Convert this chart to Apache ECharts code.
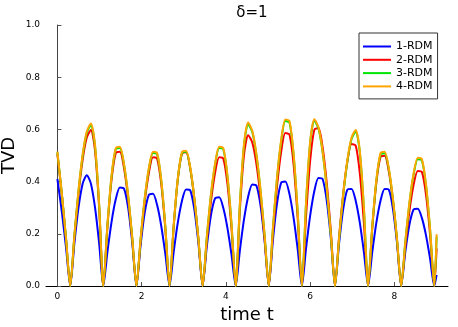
<!DOCTYPE html>
<html>
<head>
<meta charset="utf-8">
<script src="https://cdn.jsdelivr.net/npm/echarts@6/dist/echarts.min.js"></script>
<style>
html,body{margin:0;padding:0;background:#fff;}
#c{width:458px;height:327px;}
</style>
</head>
<body>
<div id="c"></div>
<script>
const seriesNames = ["1-RDM", "2-RDM", "3-RDM", "4-RDM"];
const xTicks = [0, 2, 4, 6, 8];

const time = [
  0, 0.109, 0.207, 0.305,
  0.403, 0.501, 0.600, 0.698, 0.796, 0.894, 0.992, 1.090,
  1.188, 1.286, 1.385, 1.483, 1.581, 1.679, 1.777, 1.876,
  1.974, 2.072, 2.171, 2.269, 2.367, 2.465, 2.563, 2.661,
  2.759, 2.857, 2.956, 3.054, 3.152, 3.250, 3.348, 3.447,
  3.545, 3.643, 3.742, 3.840, 3.938, 4.036, 4.134, 4.232,
  4.330, 4.428, 4.527, 4.625, 4.723, 4.821, 4.919, 5.017,
  5.115, 5.213, 5.312, 5.410, 5.508, 5.606, 5.704, 5.803,
  5.901, 5.999, 6.098, 6.196, 6.294, 6.392, 6.490, 6.588,
  6.686, 6.784, 6.883, 6.981, 7.079, 7.177, 7.275, 7.374,
  7.472, 7.570, 7.669, 7.767, 7.865, 7.963, 8.061, 8.159,
  8.257, 8.355, 8.454, 8.552, 8.650, 8.748, 8.846, 8.944,
  9.0
];

const rdm1 = [
  0.41, 0.28, 0.145, 0,
  0.162, 0.300, 0.392, 0.424, 0.392, 0.300, 0.162, 0,
  0.131, 0.246, 0.332, 0.377, 0.373, 0.300, 0.166, 0,
  0.155, 0.280, 0.349, 0.353, 0.310, 0.230, 0.122, 0,
  0.129, 0.242, 0.326, 0.370, 0.367, 0.294, 0.163, 0,
  0.150, 0.270, 0.336, 0.340, 0.299, 0.222, 0.118, 0,
  0.135, 0.254, 0.342, 0.389, 0.385, 0.309, 0.171, 0,
  0.176, 0.317, 0.396, 0.400, 0.352, 0.261, 0.139, 0,
  0.144, 0.270, 0.364, 0.414, 0.410, 0.328, 0.182, 0,
  0.164, 0.296, 0.369, 0.372, 0.327, 0.243, 0.129, 0,
  0.129, 0.243, 0.327, 0.372, 0.369, 0.296, 0.164, 0,
  0.131, 0.235, 0.293, 0.296, 0.261, 0.194, 0.103, 0,
  0.042
];

const rdm2 = [
  0.505, 0.345, 0.177, 0,
  0.185, 0.352, 0.484, 0.569, 0.598, 0.518, 0.299, 0,
  0.227, 0.408, 0.509, 0.514, 0.452, 0.336, 0.179, 0,
  0.171, 0.322, 0.433, 0.493, 0.488, 0.391, 0.217, 0,
  0.226, 0.407, 0.507, 0.512, 0.450, 0.334, 0.178, 0,
  0.171, 0.322, 0.433, 0.493, 0.488, 0.391, 0.217, 0,
  0.289, 0.501, 0.578, 0.550, 0.468, 0.340, 0.179, 0,
  0.203, 0.383, 0.515, 0.586, 0.580, 0.465, 0.258, 0,
  0.266, 0.480, 0.599, 0.605, 0.532, 0.395, 0.210, 0,
  0.189, 0.355, 0.478, 0.544, 0.538, 0.432, 0.240, 0,
  0.220, 0.396, 0.494, 0.499, 0.439, 0.326, 0.173, 0,
  0.153, 0.288, 0.388, 0.441, 0.437, 0.350, 0.194, 0,
  0.144
];

const rdm3 = [
  0.512, 0.348, 0.179, 0,
  0.191, 0.363, 0.499, 0.587, 0.617, 0.534, 0.309, 0,
  0.233, 0.420, 0.524, 0.529, 0.465, 0.345, 0.184, 0,
  0.177, 0.333, 0.449, 0.510, 0.505, 0.405, 0.225, 0,
  0.227, 0.408, 0.509, 0.514, 0.452, 0.336, 0.179, 0,
  0.184, 0.345, 0.465, 0.529, 0.524, 0.420, 0.233, 0,
  0.310, 0.537, 0.620, 0.590, 0.502, 0.365, 0.192, 0,
  0.220, 0.413, 0.556, 0.632, 0.626, 0.502, 0.279, 0,
  0.317, 0.549, 0.634, 0.603, 0.513, 0.373, 0.196, 0,
  0.183, 0.348, 0.479, 0.563, 0.592, 0.513, 0.296, 0,
  0.224, 0.404, 0.504, 0.509, 0.448, 0.332, 0.177, 0,
  0.169, 0.317, 0.427, 0.486, 0.481, 0.386, 0.214, 0,
  0.19
];

const rdm4 = [
  0.515, 0.35, 0.18, 0,
  0.193, 0.366, 0.504, 0.592, 0.623, 0.540, 0.312, 0,
  0.235, 0.424, 0.528, 0.534, 0.469, 0.349, 0.185, 0,
  0.179, 0.336, 0.452, 0.514, 0.509, 0.408, 0.227, 0,
  0.228, 0.411, 0.513, 0.518, 0.456, 0.338, 0.180, 0,
  0.185, 0.349, 0.469, 0.534, 0.528, 0.424, 0.235, 0,
  0.313, 0.542, 0.626, 0.595, 0.506, 0.368, 0.193, 0,
  0.222, 0.417, 0.561, 0.638, 0.632, 0.507, 0.281, 0,
  0.320, 0.553, 0.639, 0.608, 0.517, 0.376, 0.197, 0,
  0.185, 0.352, 0.484, 0.569, 0.598, 0.518, 0.299, 0,
  0.227, 0.408, 0.509, 0.514, 0.452, 0.336, 0.179, 0,
  0.170, 0.320, 0.431, 0.491, 0.486, 0.389, 0.216, 0,
  0.198
];

const colors = ["#0000ff", "#ff0000", "#00e600", "#ffa500"];
const allValues = [rdm1, rdm2, rdm3, rdm4];
const FONT = "DejaVu Sans";

const chart = echarts.init(document.getElementById('c'), null, {renderer: 'canvas'});

const series = allValues.map((vals, k) => ({
  name: seriesNames[k],
  type: 'line',
  data: time.map((t, i) => [t, vals[i]]),
  showSymbol: false,
  smooth: 0.25,
  lineStyle: {width: 2, color: colors[k]},
  itemStyle: {color: colors[k]},
  z: 2 + k,
  animation: false
}));

chart.setOption({
  animation: false,
  backgroundColor: '#ffffff',
  title: {
    text: 'δ=1',
    left: 247,
    top: 1,
    textAlign: 'center',
    textStyle: {fontFamily: FONT, fontSize: 15, fontWeight: 'normal', color: '#000'}
  },
  legend: {
    orient: 'vertical',
    left: 359,
    top: 33,
    padding: [7, 5, 6, 4],
    itemWidth: 28,
    itemHeight: 2,
    itemGap: 0.3,
    icon: 'rect',
    borderColor: '#333',
    borderWidth: 1,
    backgroundColor: '#fff',
    textStyle: {fontFamily: FONT, fontSize: 11, color: '#000', lineHeight: 13},
    data: seriesNames
  },
  grid: {left: 46, right: 10, top: 25, bottom: 41, containLabel: false, outerBoundsMode: 'none'},
  xAxis: {
    type: 'value',
    min: -0.27,
    max: 9.27,
    name: 'time t',
    nameLocation: 'middle',
    nameGap: 20,
    nameMoveOverlap: false,
    nameTextStyle: {fontFamily: FONT, fontSize: 18, color: '#000'},
    axisLine: {show: true, onZero: false, lineStyle: {color: '#000', width: 1}},
    axisTick: {show: true, inside: true, length: 4, customValues: xTicks, lineStyle: {color: '#555'}},
    axisLabel: {customValues: xTicks, fontFamily: FONT, fontSize: 9, color: '#000', margin: 6},
    splitLine: {show: false}
  },
  yAxis: {
    type: 'value',
    min: 0,
    max: 1,
    interval: 0.2,
    name: 'TVD',
    nameLocation: 'middle',
    nameGap: 28,
    nameMoveOverlap: false,
    nameTextStyle: {fontFamily: FONT, fontSize: 18, color: '#000'},
    axisLine: {show: true, lineStyle: {color: '#444', width: 1}},
    axisTick: {show: true, inside: true, length: 4, lineStyle: {color: '#555'}},
    axisLabel: {fontFamily: FONT, fontSize: 9, color: '#000', margin: 6, formatter: v => v.toFixed(1)},
    splitLine: {show: false}
  },
  series: series
});
</script>
</body>
</html>
